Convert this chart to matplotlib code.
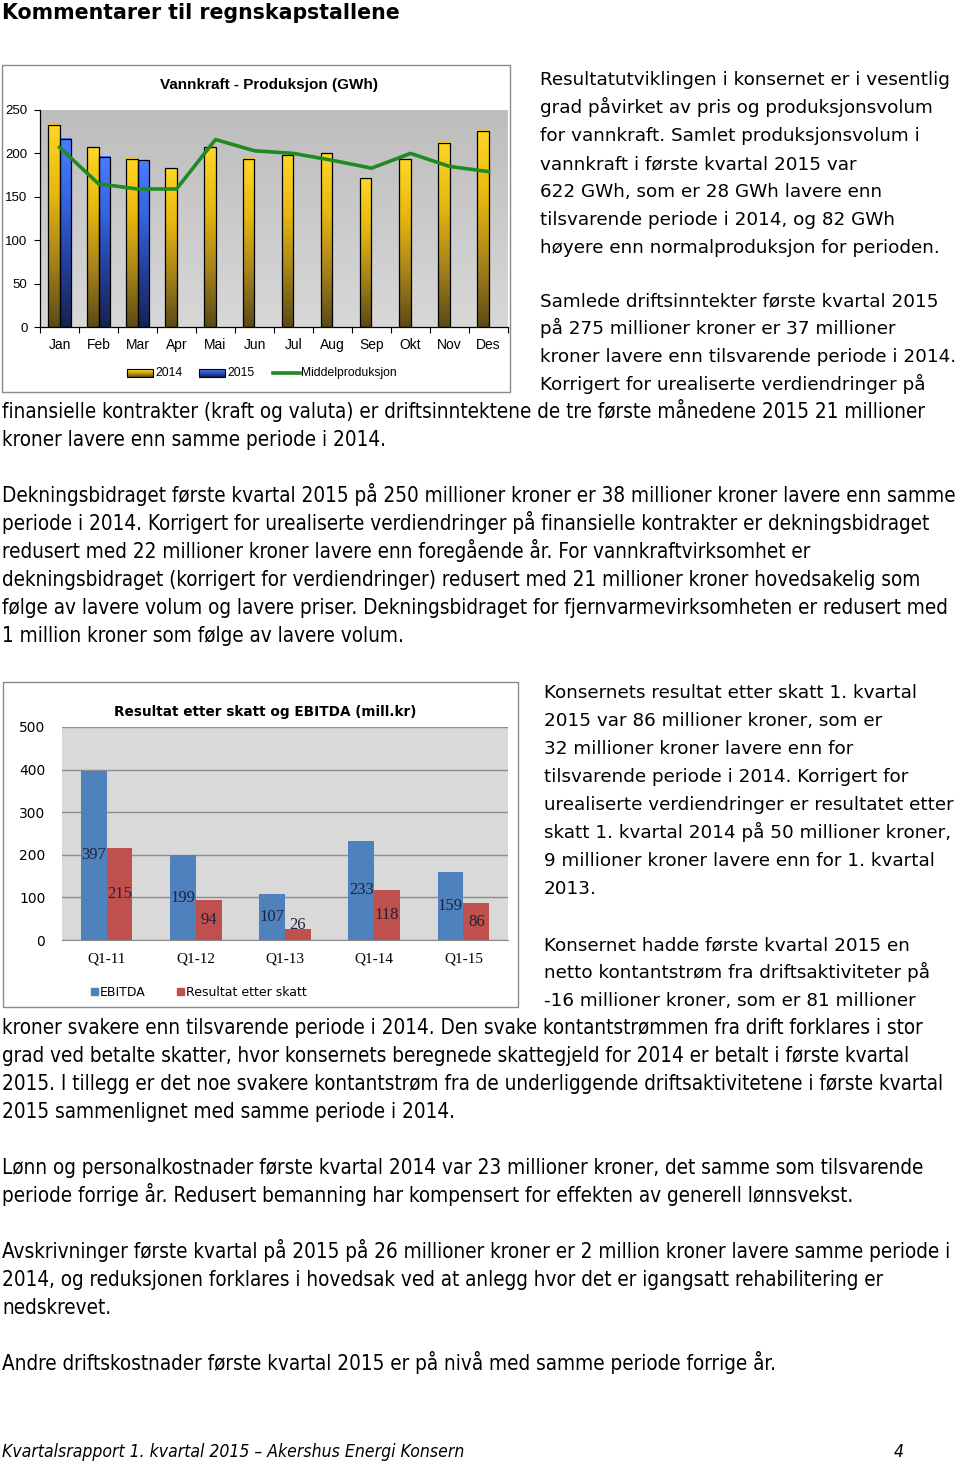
import matplotlib.pyplot as plt
import numpy as np
from matplotlib.patches import Rectangle
from matplotlib.colors import LinearSegmentedColormap

# chart 1: Vannkraft - Produksjon (GWh)
months = ['Jan', 'Feb', 'Mar', 'Apr', 'Mai', 'Jun', 'Jul', 'Aug', 'Sep', 'Okt', 'Nov', 'Des']
prod_2014 = [233, 207, 194, 183, 207, 194, 198, 200, 172, 193, 212, 226]
prod_2015 = [217, 196, 192]
middel = [207, 165, 159, 159, 216, 203, 200, 192, 183, 200, 185, 179]

# chart 2: Resultat etter skatt og EBITDA (mill.kr)
quarters = ['Q1-11', 'Q1-12', 'Q1-13', 'Q1-14', 'Q1-15']
ebitda = [397, 199, 107, 233, 159]
resultat = [215, 94, 26, 118, 86]

title = 'Kommentarer til regnskapstallene'
para1 = ['Resultatutviklingen i konsernet er i vesentlig',
         'grad påvirket av pris og produksjonsvolum',
         'for vannkraft. Samlet produksjonsvolum i',
         'vannkraft i første kvartal 2015 var',
         '622 GWh, som er 28 GWh lavere enn',
         'tilsvarende periode i 2014, og 82 GWh',
         'høyere enn normalproduksjon for perioden.']
para2 = ['Samlede driftsinntekter første kvartal 2015',
         'på 275 millioner kroner er 37 millioner',
         'kroner lavere enn tilsvarende periode i 2014.',
         'Korrigert for urealiserte verdiendringer på']
para2_full = ['finansielle kontrakter (kraft og valuta) er driftsinntektene de tre første månedene 2015 21 millioner',
              'kroner lavere enn samme periode i 2014.']
para3 = ['Dekningsbidraget første kvartal 2015 på 250 millioner kroner er 38 millioner kroner lavere enn samme',
         'periode i 2014. Korrigert for urealiserte verdiendringer på finansielle kontrakter er dekningsbidraget',
         'redusert med 22 millioner kroner lavere enn foregående år. For vannkraftvirksomhet er',
         'dekningsbidraget (korrigert for verdiendringer) redusert med 21 millioner kroner hovedsakelig som',
         'følge av lavere volum og lavere priser. Dekningsbidraget for fjernvarmevirksomheten er redusert med',
         '1 million kroner som følge av lavere volum.']
para4 = ['Konsernets resultat etter skatt 1. kvartal',
         '2015 var 86 millioner kroner, som er',
         '32 millioner kroner lavere enn for',
         'tilsvarende periode i 2014. Korrigert for',
         'urealiserte verdiendringer er resultatet etter',
         'skatt 1. kvartal 2014 på 50 millioner kroner,',
         '9 millioner kroner lavere enn for 1. kvartal',
         '2013.']
para5 = ['Konsernet hadde første kvartal 2015 en',
         'netto kontantstrøm fra driftsaktiviteter på',
         '-16 millioner kroner, som er 81 millioner']
para5_full = ['kroner svakere enn tilsvarende periode i 2014. Den svake kontantstrømmen fra drift forklares i stor',
              'grad ved betalte skatter, hvor konsernets beregnede skattegjeld for 2014 er betalt i første kvartal',
              '2015. I tillegg er det noe svakere kontantstrøm fra de underliggende driftsaktivitetene i første kvartal',
              '2015 sammenlignet med samme periode i 2014.']
para6 = ['Lønn og personalkostnader første kvartal 2014 var 23 millioner kroner, det samme som tilsvarende',
         'periode forrige år. Redusert bemanning har kompensert for effekten av generell lønnsvekst.']
para7 = ['Avskrivninger første kvartal på 2015 på 26 millioner kroner er 2 million kroner lavere samme periode i',
         '2014, og reduksjonen forklares i hovedsak ved at anlegg hvor det er igangsatt rehabilitering er',
         'nedskrevet.']
para8 = ['Andre driftskostnader første kvartal 2015 er på nivå med samme periode forrige år.']
footer = 'Kvartalsrapport 1. kvartal 2015 \u2013 Akershus Energi Konsern'
page_no = '4'

W, H = 960, 1462
fig = plt.figure(figsize=(W / 100, H / 100), dpi=100)

# full page axes in pixel coordinates, used for the text and the chart frames
page = fig.add_axes([0, 0, 1, 1])
page.set_xlim(0, W)
page.set_ylim(H, 0)
page.axis('off')

NORMAL = dict(family='DejaVu Sans', fontsize=13.2, color='black')
FULL = dict(family='DejaVu Sans', fontstretch='condensed', fontsize=14.85, color='black')
LINE = 28


def write(lines, x, y0, style):
    for i, s in enumerate(lines):
        page.text(x, y0 + i * LINE, s, va='baseline', ha='left', **style)


page.text(2, 19, title, family='DejaVu Sans', fontweight='bold', fontsize=14.8, va='baseline')
write(para1, 540, 85, NORMAL)
write(para2, 540, 306, NORMAL)
write(para2_full, 2, 418, FULL)
write(para3, 2, 502, FULL)
write(para4, 544, 698, NORMAL)
write(para5, 544, 950, NORMAL)
write(para5_full, 2, 1034, FULL)
write(para6, 2, 1174, FULL)
write(para7, 2, 1258, FULL)
write(para8, 2, 1370, FULL)
page.text(2, 1457, footer, family='DejaVu Sans', fontstretch='condensed', style='italic',
          fontsize=12.6, va='baseline')
page.text(904, 1457, page_no, family='DejaVu Sans', fontstretch='condensed', style='italic',
          fontsize=12.6, va='baseline', ha='right')

# chart frames
page.add_patch(Rectangle((2, 65), 508, 327, facecolor='white', edgecolor='#8a8a8a', lw=1))
page.add_patch(Rectangle((3, 682), 515, 325, facecolor='white', edgecolor='#8a8a8a', lw=1))


def px_axes(x0, y0, x1, y1):
    return fig.add_axes([x0 / W, 1 - y1 / H, (x1 - x0) / W, (y1 - y0) / H])


yellow = LinearSegmentedColormap.from_list('y', ['#5a4a16', '#a8841a', '#e8b810', '#ffd627'])
blue = LinearSegmentedColormap.from_list('b', ['#18224f', '#233f9a', '#3563e0', '#4a7cff'])
grad = np.linspace(0, 1, 256).reshape(-1, 1)


def gradient_bars(ax, xs, vals, width, cmap):
    bars = ax.bar(xs, vals, width, facecolor='none', edgecolor='black', linewidth=0.9, zorder=3)
    for b in bars:
        x, y = b.get_xy()
        ax.imshow(grad, extent=[x, x + b.get_width(), y, y + b.get_height()], origin='lower',
                  cmap=cmap, aspect='auto', zorder=2)


# ---- chart 1
ax1 = px_axes(40, 110, 508, 327)
x = np.arange(len(months))
bw = 0.3
ax1.imshow(np.linspace(0, 1, 256).reshape(-1, 1), extent=[0, 1, 0, 1], transform=ax1.transAxes,
           origin='lower', aspect='auto', zorder=0,
           cmap=LinearSegmentedColormap.from_list('bg', ['#d8d8d8', '#bdbdbd']))
gradient_bars(ax1, x - bw / 2, prod_2014, bw, yellow)
gradient_bars(ax1, x[:len(prod_2015)] + bw / 2, prod_2015, bw, blue)
ax1.plot(x, middel, color='#1f8a1f', lw=2.6, zorder=4, solid_joinstyle='round')
ax1.set_xlim(-0.5, len(months) - 0.5)
ax1.set_ylim(0, 250)
ax1.set_yticks(range(0, 251, 50))
ax1.set_xticks(np.arange(-0.5, len(months)), labels=[''] * (len(months) + 1))
ax1.set_xticks(x, labels=months, minor=True)
ax1.tick_params(axis='x', which='major', length=4, width=0.8, direction='out')
ax1.tick_params(axis='x', which='minor', length=0, pad=8)
ax1.tick_params(axis='y', length=4, width=0.8, pad=5)
for lab in ax1.get_xticklabels(minor=True):
    lab.set_fontfamily('Liberation Sans')
    lab.set_fontsize(10)
for lab in ax1.get_yticklabels():
    lab.set_fontfamily('Liberation Sans')
    lab.set_fontsize(9.5)
for s in ['top', 'right']:
    ax1.spines[s].set_visible(False)
for s in ['left', 'bottom']:
    ax1.spines[s].set_linewidth(0.9)
page.text(269, 85, 'Vannkraft - Produksjon (GWh)', family='Liberation Sans', fontweight='bold',
          fontsize=11, ha='center', va='center')

# chart 1 legend
for (x0, cmap, lab) in [(127, yellow, '2014'), (199, blue, '2015')]:
    page.imshow(grad, extent=[x0, x0 + 26, 377, 369], origin='lower', cmap=cmap, aspect='auto', zorder=2)
    page.add_patch(Rectangle((x0, 369), 26, 8, facecolor='none', edgecolor='black', lw=0.8, zorder=3))
    page.text(x0 + 28, 373, lab, family='Liberation Sans', fontsize=8.7, va='center')
page.plot([273, 300], [373, 373], color='#1f8a1f', lw=2.6)
page.text(301, 373, 'Middelproduksjon', family='Liberation Sans', fontsize=8.7, va='center')
page.set_xlim(0, W)
page.set_ylim(H, 0)

# ---- chart 2
ax2 = px_axes(62, 727, 508, 940)
q = np.arange(len(quarters))
bw2 = 0.29
ax2.set_facecolor('#d9d9d9')
ax2.bar(q - bw2 / 2, ebitda, bw2, color='#4f81bd', zorder=3)
ax2.bar(q + bw2 / 2, resultat, bw2, color='#c0504d', zorder=3)
for i in range(len(quarters)):
    ax2.text(q[i] - bw2 / 2, max(ebitda[i] / 2, 35), str(ebitda[i]), ha='center', va='center',
             family='Liberation Serif', fontsize=12, color='#1c2340', zorder=4)
    ax2.text(q[i] + bw2 / 2, max(resultat[i] / 2, 35), str(resultat[i]), ha='center', va='center',
             family='Liberation Serif', fontsize=12, color='#1c2340', zorder=4)
ax2.set_xlim(-0.5, len(quarters) - 0.5)
ax2.set_ylim(0, 500)
ax2.set_yticks(range(0, 501, 100))
ax2.set_xticks(q, labels=quarters)
ax2.yaxis.grid(True, color='#8c8c8c', lw=1)
ax2.set_axisbelow(True)
ax2.tick_params(axis='both', length=0)
ax2.tick_params(axis='x', pad=9)
ax2.tick_params(axis='y', pad=12)
for lab in ax2.get_yticklabels():
    lab.set_fontfamily('DejaVu Sans')
    lab.set_fontsize(10)
for lab in ax2.get_xticklabels():
    lab.set_fontfamily('Liberation Serif')
    lab.set_fontsize(11)
for s in ['top', 'right', 'left']:
    ax2.spines[s].set_visible(False)
ax2.spines['bottom'].set_color('#8c8c8c')
page.text(265, 712, 'Resultat etter skatt og EBITDA (mill.kr)', family='DejaVu Sans', fontweight='bold',
          fontsize=9.8, ha='center', va='center')
page.add_patch(Rectangle((91, 988), 7, 7, color='#4f81bd'))
page.text(100, 992, 'EBITDA', family='DejaVu Sans', fontsize=9, va='center')
page.add_patch(Rectangle((177, 988), 7, 7, color='#c0504d'))
page.text(186, 992, 'Resultat etter skatt', family='DejaVu Sans', fontsize=9, va='center')

fig.savefig('out.png', dpi=100, facecolor='white')
